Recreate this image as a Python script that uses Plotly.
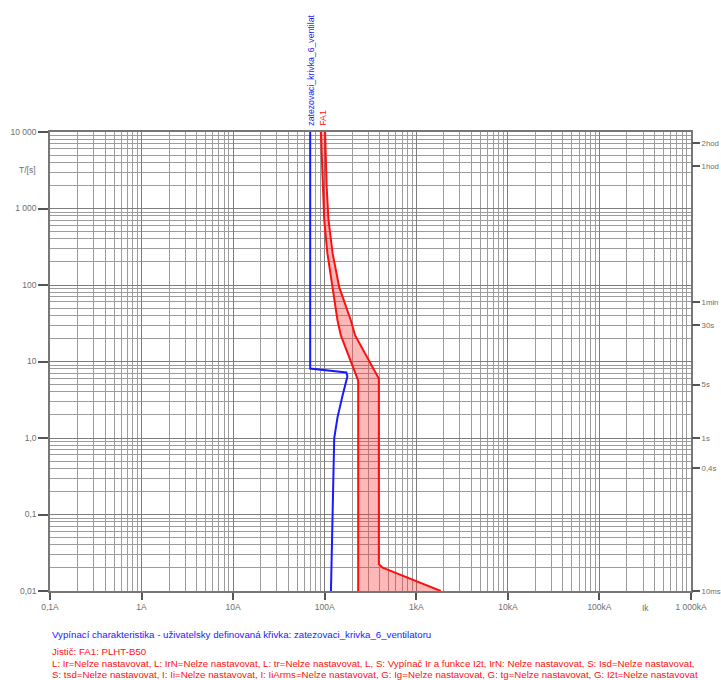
import numpy as np
import plotly.graph_objects as go

# ---- data ----
# Blue: user defined curve "zatezovaci_krivka_6_ventilatoru" (current A, time s)
blue_I = [69.4, 69.4, 172, 177, 155, 138, 127, 117]
blue_t = [10000, 8.1, 7.2, 6.4, 3.4, 1.86, 1.0, 0.01]

# Red: breaker FA1 PLHT-B50 tripping band
red_min_I = [90.8, 94.6, 98.8, 107, 122, 138, 150, 190, 232, 232]
red_min_t = [10000, 1919, 703, 259, 93.8, 34.4, 21.9, 10.5, 5.6, 0.01]
red_max_I = [101, 105, 110, 122, 144, 193, 215, 290, 380, 390, 390, 430, 486, 1850]
red_max_t = [10000, 1919, 703, 259, 93.8, 34.4, 21.9, 11.5, 6.4, 6.0, 0.0224, 0.0202, 0.0190, 0.01]

# axes
x_tickvals = [0.1, 1, 10, 100, 1000, 10000, 100000, 1000000]
x_ticktext = ["0,1A", "1A", "10A", "100A", "1kA", "10kA", "100kA", "1 000kA"]
y_tickvals = [0.01, 0.1, 1, 10, 100, 1000, 10000]
y_ticktext = ["0,01", "0,1", "1,0", "10", "100", "1 000", "10 000"]
y2_tickvals = [7200, 3600, 60, 30, 5, 1, 0.4, 0.01]
y2_ticktext = ["2hod", "1hod", "1min", "30s", "5s", "1s", "0,4s", "10ms"]
ik_value = 3.2e5
ts_label_value = 3160

x_minor = [k * 10.0 ** e for e in range(-1, 6) for k in range(2, 10)]
y_minor = [k * 10.0 ** e for e in range(-2, 4) for k in range(2, 10)]

blue_label = "zatezovaci_krivka_6_ventilat"
red_label = "FA1"
text_blue = "Vypínací charakteristika - uživatelsky definovaná křivka: zatezovaci_krivka_6_ventilatoru"
text_red1 = "Jistič: FA1: PLHT-B50"
text_red2 = ("L: Ir=Nelze nastavovat, L: IrN=Nelze nastavovat, L: tr=Nelze nastavovat, "
             "L, S: Vypínač Ir a funkce I2t, IrN: Nelze nastavovat, S: Isd=Nelze nastavovat,")
text_red3 = ("S: tsd=Nelze nastavovat, I: Ii=Nelze nastavovat, I: IiArms=Nelze nastavovat, "
             "G: Ig=Nelze nastavovat, G: tg=Nelze nastavovat, G: I2t=Nelze nastavovat")

FONT = "Liberation Sans, Arial, sans-serif"
GRAY = "#6e6e6e"
RED = "#ff1010"
BLUE = "#1a1aff"

fig = go.Figure()

# band fill
fig.add_trace(go.Scatter(
    x=red_min_I + red_max_I[::-1], y=red_min_t + red_max_t[::-1],
    fill="toself", fillcolor="rgba(255,40,40,0.33)", line=dict(width=0),
    mode="lines", hoverinfo="skip", showlegend=False))
fig.add_trace(go.Scatter(x=red_min_I, y=red_min_t, mode="lines",
                         line=dict(color=RED, width=2), showlegend=False))
fig.add_trace(go.Scatter(x=red_max_I, y=red_max_t, mode="lines",
                         line=dict(color=RED, width=2), showlegend=False))
fig.add_trace(go.Scatter(x=blue_I, y=blue_t, mode="lines",
                         line=dict(color=BLUE, width=2), showlegend=False))
# dummy trace to carry the right axis
fig.add_trace(go.Scatter(x=[1], y=[1], yaxis="y2", mode="markers",
                         marker=dict(opacity=0), hoverinfo="skip", showlegend=False))

axis_common = dict(
    type="log", showline=True, linecolor="#777777", linewidth=1.5,
    gridcolor="#7e7e7e", gridwidth=1, zeroline=False, automargin=False,
    ticks="outside", tickcolor="#555555", tickwidth=1.5,
    tickfont=dict(family=FONT, size=8.5, color=GRAY),
)

fig.update_layout(
    width=721, height=680,
    margin=dict(l=50, r=30, t=132, b=89, autoexpand=False),
    plot_bgcolor="white", paper_bgcolor="white",
    showlegend=False, hovermode=False,
    xaxis=dict(axis_common, range=[-1, 6], tickmode="array",
               tickvals=x_tickvals, ticktext=x_ticktext, ticklen=7, mirror=True,
               minor=dict(tickmode="array", tickvals=x_minor, showgrid=True,
                          gridcolor="#9c9c9c", gridwidth=1, ticks="")),
    yaxis=dict(axis_common, range=[-2, 4], tickmode="array",
               tickvals=y_tickvals, ticktext=y_ticktext, ticklen=10, mirror=True,
               minor=dict(tickmode="array", tickvals=y_minor, showgrid=True,
                          gridcolor="#9c9c9c", gridwidth=1, ticks="")),
    yaxis2=dict(type="log", range=[-2, 4], overlaying="y", side="right",
                tickmode="array", tickvals=y2_tickvals, ticktext=y2_ticktext,
                showgrid=False, showline=False, zeroline=False, automargin=False,
                ticks="outside", ticklen=8, tickcolor="#555555", tickwidth=1.5,
                tickfont=dict(family=FONT, size=7.8, color=GRAY)),
)

ann = []
ann.append(dict(x=np.log10(blue_I[0]), y=1, xref="x", yref="paper",
                text=blue_label, textangle=-90, showarrow=False,
                xanchor="center", yanchor="bottom", yshift=4,
                font=dict(family=FONT, size=8.7, color=BLUE)))
ann.append(dict(x=np.log10(red_min_I[0]) + 0.02, y=1, xref="x", yref="paper",
                text=red_label, textangle=-90, showarrow=False,
                xanchor="center", yanchor="bottom", yshift=4,
                font=dict(family=FONT, size=8.7, color=RED)))
ann.append(dict(x=0, y=np.log10(ts_label_value), xref="paper", yref="y",
                text="T/[s]", showarrow=False, xanchor="right", xshift=-12,
                font=dict(family=FONT, size=8.5, color=GRAY)))
ann.append(dict(x=np.log10(ik_value), y=0, xref="x", yref="paper",
                text="Ik", showarrow=False, yanchor="middle", yshift=-17,
                font=dict(family=FONT, size=8.5, color=GRAY)))
rows = [(text_blue, BLUE, 634), (text_red1, RED, 651),
        (text_red2, RED, 663), (text_red3, RED, 674)]
for txt, col, ypix in rows:
    ann.append(dict(x=0, y=(591 - ypix) / 459.0, xref="paper", yref="paper",
                    text=txt, showarrow=False, xanchor="left", yanchor="middle",
                    font=dict(family=FONT, size=9.7, color=col)))
fig.update_layout(annotations=ann)

# remove the default 8 px page margin so the figure fills the window exactly
fig.write_html("out.html", config={"displayModeBar": False},
               post_script="document.body.style.margin='0px';")
